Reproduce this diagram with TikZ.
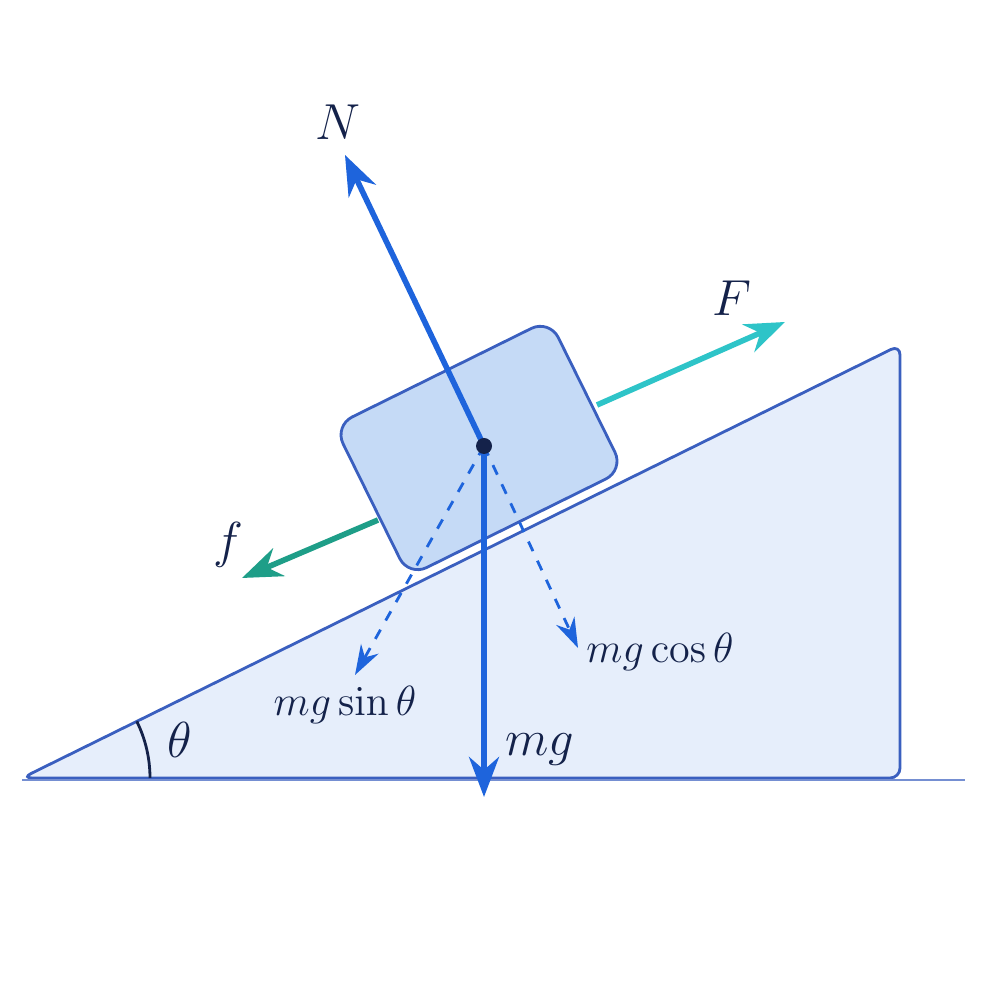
\documentclass[tikz,border=0pt]{standalone}
\usepackage{amsmath}
\usetikzlibrary{positioning,arrows.meta}
\definecolor{wedgefill}{HTML}{E6EEFB}
\definecolor{wedgeline}{HTML}{3A5FBF}
\definecolor{blockfill}{HTML}{C5DAF6}
\definecolor{forceblue}{HTML}{1E64DC}
\definecolor{forcecyan}{HTML}{2EC4C8}
\definecolor{forceteal}{HTML}{1E9E88}
\definecolor{labelnavy}{HTML}{14224A}
\begin{document}
\begin{tikzpicture}[
                force/.style={-{Stealth[length=4mm,width=3mm]}, line width=1.6pt},
                comp/.style={-{Stealth[length=3mm,width=2mm]}, dashed, thick, forceblue},
                lbl/.style={text=labelnavy, font=\Large},
                block/.style={rectangle, rounded corners=2mm, draw=wedgeline, thick, fill=blockfill,
                              minimum width=2.4cm, minimum height=1.68cm, rotate=26.3},
                empty/.style={coordinate}
            ]
            \useasboundingbox (0,0) rectangle (10,10);

            %incline
            \filldraw[fill=wedgefill, draw=wedgeline, thick, rounded corners=1mm]
                (0.22,2.22) -- (9.0,6.55) -- (9.0,2.22) -- cycle;
            \draw[wedgeline!70, thick] (0.22,2.2) -- (9.65,2.2);
            \draw[labelnavy, thick] (1.5,2.22) arc[start angle=0, end angle=26.3, radius=1.28];
            \node[lbl] (theta) at (1.8,2.6) {$\theta$};

            %block
            \node[block] (B) at (4.79,5.52) {};
            \coordinate (C) at (4.84,5.54);

            %forces along incline
            \node[empty] (Fs) at (5.97,5.95) {};
            \node[empty] (Fe) at (7.85,6.78) {};
            \node[empty] (fs) at (3.78,4.80) {};
            \node[empty] (fe) at (2.42,4.22) {};
            \draw[force, forcecyan] (Fs) -- (Fe);
            \draw[force, forceteal] (fs) -- (fe);

            %normal and weight
            \node[empty] (Ne) at (3.45,8.45) {};
            \node[empty] (mge) at (4.84,2.03) {};
            \draw[force, forceblue] (C) -- (Ne);
            \draw[force, forceblue] (C) -- (mge);

            %components
            \node[empty] (se) at (3.55,3.25) {};
            \node[empty] (ce) at (5.78,3.52) {};
            \draw[comp] (C) -- (se);
            \draw[comp] (C) -- (ce);
            \fill[labelnavy] (C) circle (0.8mm);

            %labels
            \node[lbl] (N) at (3.38,8.78) {$N$};
            \node[lbl] (F) at (7.32,7.02) {$F$};
            \node[lbl] (f) at (2.28,4.55) {$f$};
            \node[lbl] (mg) at (5.4,2.5) {$mg$};
            \node[lbl, font=\large] (ms) at (3.45,2.95) {$mg\sin\theta$};
            \node[lbl, font=\large] (mc) at (6.6,3.48) {$mg\cos\theta$};
\end{tikzpicture}
\end{document}
